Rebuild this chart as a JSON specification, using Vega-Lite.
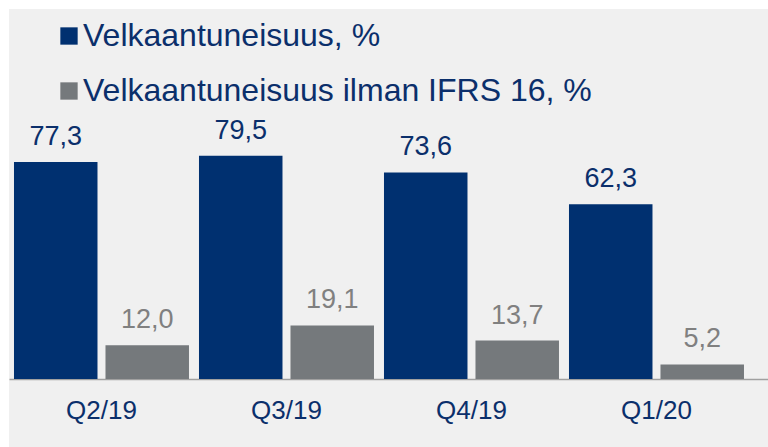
{
  "$schema": "https://vega.github.io/schema/vega-lite/v6.json",
  "width": 759,
  "height": 438,
  "autosize": {"type": "none"},
  "padding": {"left": 9, "top": 9, "right": 0, "bottom": 0},
  "background": "white",
  "config": {"view": {"stroke": null, "fill": "#f0f0f0"}, "font": "Liberation Sans"},
  "data": {"values": [
    {"q": "Q2/19", "s": "Velkaantuneisuus, %", "v": 77.3, "lab": "77,3"},
    {"q": "Q2/19", "s": "Velkaantuneisuus ilman IFRS 16, %", "v": 12.0, "lab": "12,0"},
    {"q": "Q3/19", "s": "Velkaantuneisuus, %", "v": 79.5, "lab": "79,5"},
    {"q": "Q3/19", "s": "Velkaantuneisuus ilman IFRS 16, %", "v": 19.1, "lab": "19,1"},
    {"q": "Q4/19", "s": "Velkaantuneisuus, %", "v": 73.6, "lab": "73,6"},
    {"q": "Q4/19", "s": "Velkaantuneisuus ilman IFRS 16, %", "v": 13.7, "lab": "13,7"},
    {"q": "Q1/20", "s": "Velkaantuneisuus, %", "v": 62.3, "lab": "62,3"},
    {"q": "Q1/20", "s": "Velkaantuneisuus ilman IFRS 16, %", "v": 5.2, "lab": "5,2"}
  ]},
  "encoding": {
    "x": {
      "field": "q", "type": "nominal", "sort": null,
      "scale": {"paddingInner": 0.05405, "paddingOuter": 0.0784, "align": 0.172},
      "axis": {
        "title": null, "orient": "bottom", "offset": -68, "domainColor": "#a0a0a0", "domainWidth": 1.5,
        "ticks": false, "labelPadding": 18, "labelFontSize": 26, "labelColor": "#0b2f6b",
        "labelAngle": 0, "grid": false
      }
    },
    "xOffset": {
      "field": "s", "type": "nominal",
      "sort": ["Velkaantuneisuus, %", "Velkaantuneisuus ilman IFRS 16, %"],
      "scale": {"paddingInner": 0.0874, "paddingOuter": 0}
    },
    "y": {
      "field": "v", "type": "quantitative",
      "scale": {"domain": [-24.2, 131.8], "nice": false, "zero": false},
      "axis": null
    }
  },
  "layer": [
    {
      "mark": {"type": "bar"},
      "encoding": {
        "color": {
          "field": "s", "type": "nominal",
          "scale": {"domain": ["Velkaantuneisuus, %", "Velkaantuneisuus ilman IFRS 16, %"], "range": ["#003070", "#75797c"]},
          "legend": {
            "orient": "none", "legendX": 44, "legendY": 11, "title": null, "padding": 0,
            "symbolType": "square", "symbolSize": 300, "symbolStrokeWidth": 0,
            "labelFontSize": 32, "labelColor": "#0b2f6b", "labelLimit": 800,
            "rowPadding": 23, "labelOffset": -2
          }
        }
      }
    },
    {
      "mark": {"type": "text", "baseline": "alphabetic", "dy": -17, "fontSize": 27},
      "encoding": {
        "text": {"field": "lab"},
        "color": {
          "field": "s", "type": "nominal",
          "scale": {"domain": ["Velkaantuneisuus, %", "Velkaantuneisuus ilman IFRS 16, %"], "range": ["#0b2f6b", "#808080"]},
          "legend": null
        }
      }
    }
  ],
  "resolve": {"scale": {"color": "independent"}}
}
